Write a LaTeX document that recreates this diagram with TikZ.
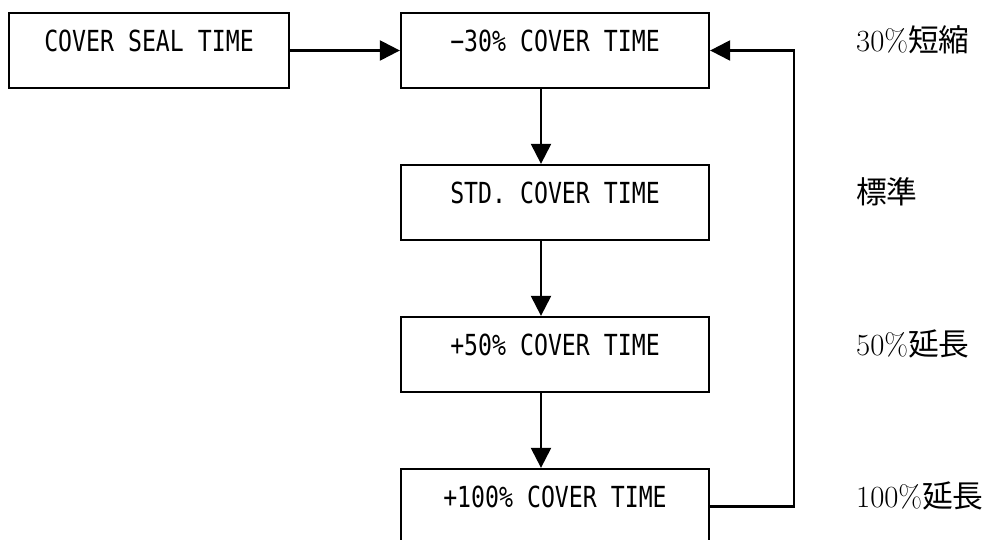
\documentclass[tikz,border=0pt]{standalone}
\usepackage{fontspec}
\usepackage{tikz}
\usetikzlibrary{arrows.meta}
\newfontfamily\boxfont[FakeStretch=0.8]{DejaVu Sans Mono}
\newfontfamily\jpfont{Noto Sans CJK JP}
\frenchspacing
\begin{document}
\begin{tikzpicture}[line width=1.3pt,
	timebox/.style = {draw, inner sep=0pt, minimum height=1.5cm, minimum width=6.16cm,
		text height=0.78cm, text depth=0.72cm, font=\boxfont\fontsize{16.5}{18}\selectfont},
	note/.style = {anchor=base west, inner sep=0pt, font=\fontsize{17.5}{20}\selectfont}]
			      \tikzset{> = {Triangle[length=0.4cm, width=0.4cm]}}
			      \useasboundingbox (0,0) rectangle (19.68,10.8);
			      \node[timebox, minimum width=5.6cm] (seal) at (2.98,9.79) {COVER SEAL TIME};
			      \node[timebox] (short) at (11.1,9.79) {−30\% COVER TIME};
			      \node[timebox] (std) at (11.1,6.75) {STD. COVER TIME};
			      \node[timebox] (ext) at (11.1,3.71) {+50\% COVER TIME};
			      \node[timebox] (long) at (11.1,0.67) {+100\% COVER TIME};
			      \coordinate (loop) at (15.88,0);
			      \coordinate (notes) at (17.1,0);
			      \draw[->] (seal.east) -- (short.west);
			      \draw[->] ([xshift=-0.28cm]short.south) -- ([xshift=-0.28cm]std.north);
			      \draw[->] ([xshift=-0.28cm]std.south) -- ([xshift=-0.28cm]ext.north);
			      \draw[->] ([xshift=-0.28cm]ext.south) -- ([xshift=-0.28cm]long.north);
			      \draw[->] (long.east) -| (loop |- short.east) -- (short.east);
			      \node[note] (shortnote) at (short.base -| notes) {30\%{\jpfont 短縮}};
			      \node[note] (stdnote) at (std.base -| notes) {{\jpfont 標準}};
			      \node[note] (extnote) at (ext.base -| notes) {50\%{\jpfont 延長}};
			      \node[note] (longnote) at (long.base -| notes) {100\%{\jpfont 延長}};
		      \end{tikzpicture}
\end{document}
